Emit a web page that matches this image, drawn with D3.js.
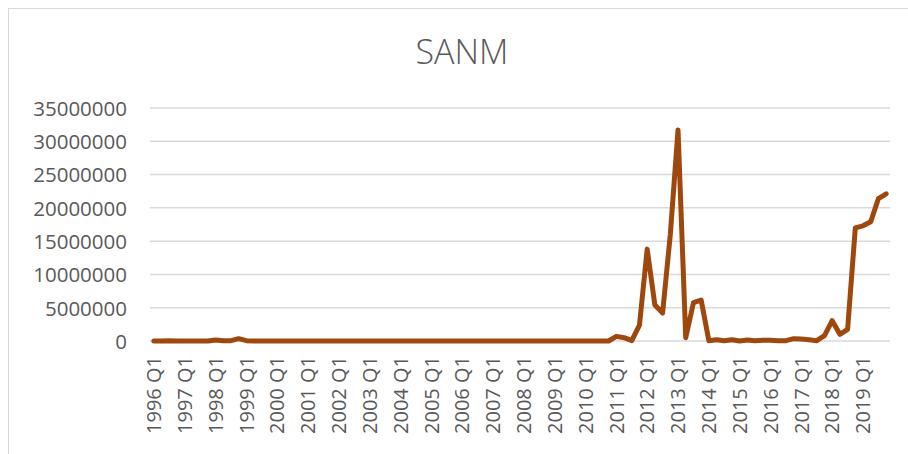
<!DOCTYPE html>
<html>
<head>
<meta charset="utf-8">
<script src="https://cdn.jsdelivr.net/npm/d3@7"></script>
<style>
  html, body { margin: 0; padding: 0; background: #fff; }
  svg { display: block; }
  text { font-family: "Open Sans", "DejaVu Sans", sans-serif; fill: #595959; }
</style>
</head>
<body>
<svg id="chart" width="908" height="454"></svg>
<script>
const title = "SANM";
const years = d3.range(1996, 2020);
const quarters = years.flatMap(y => ["Q1", "Q2", "Q3", "Q4"].map(q => `${y} ${q}`));
const tickLabels = years.map(y => `${y} Q1`);
const yTicks = [0, 5000000, 10000000, 15000000, 20000000, 25000000, 30000000, 35000000];

// values in millions, one per quarter (1996 Q1 .. 2019 Q4)
const valuesM = [
  0, 0, 0.03, 0, 0, 0, 0, 0,          // 1996-1997
  0.15, 0.05, 0.05, 0.35, 0.05, 0, 0, 0, // 1998-1999
  0, 0, 0, 0, 0, 0, 0, 0,             // 2000-2001
  0, 0, 0, 0, 0, 0, 0, 0,             // 2002-2003
  0, 0, 0, 0, 0, 0, 0, 0,             // 2004-2005
  0, 0, 0, 0, 0, 0, 0, 0,             // 2006-2007
  0, 0, 0, 0, 0, 0, 0, 0,             // 2008-2009
  0, 0, 0, 0,                         // 2010
  0.7, 0.5, 0.05, 2.4,                // 2011
  13.8, 5.4, 4.2, 16.0,               // 2012
  31.7, 0.5, 5.75, 6.15,              // 2013
  0.05, 0.2, 0.05, 0.2,               // 2014
  0, 0.15, 0.05, 0.1,                 // 2015
  0.1, 0.05, 0.05, 0.35,              // 2016
  0.3, 0.2, 0.05, 0.8,                // 2017
  3.05, 1.0, 1.75, 17.0,              // 2018
  17.3, 17.9, 21.4, 22.1              // 2019
];
const values = valuesM.map(v => v * 1e6);

const svg = d3.select("#chart");

// chart border
svg.append("rect")
  .attr("x", 8.5).attr("y", 8.5)
  .attr("width", 1000).attr("height", 1000)
  .attr("fill", "none").attr("stroke", "#d9d9d9").attr("stroke-width", 1);

// title
svg.append("text")
  .attr("x", 462).attr("y", 64)
  .attr("text-anchor", "middle")
  .style("font-size", "34px")
  .style("font-weight", 300)
  .text(title);

const x = d3.scaleBand().domain(quarters).range([150, 890]);
const y = d3.scaleLinear().domain([0, 35000000]).range([341, 108]);

// gridlines
svg.append("g").selectAll("line").data(yTicks).join("line")
  .attr("x1", 150).attr("x2", 890)
  .attr("y1", d => y(d)).attr("y2", d => y(d))
  .attr("stroke", "#d9d9d9").attr("stroke-width", 1.5);

// y axis labels
const yAxis = d3.axisLeft(y).tickValues(yTicks).tickFormat(d3.format("d")).tickSize(0).tickPadding(0);
const yg = svg.append("g").attr("transform", "translate(127,0)").call(yAxis);
yg.select(".domain").remove();
yg.selectAll("text")
  .style("font-size", "20.5px")
  .style("font-family", "'Open Sans', sans-serif")
  .attr("fill", "#595959")
  .attr("dy", "0.36em");

// x axis labels
const xAxis = d3.axisBottom(x).tickValues(tickLabels).tickSize(0).tickPadding(0);
const xg = svg.append("g").attr("transform", "translate(0,356)").call(xAxis);
xg.select(".domain").remove();
xg.selectAll("text")
  .style("font-size", "20px")
  .style("font-family", "'Open Sans', sans-serif")
  .attr("fill", "#595959")
  .attr("text-anchor", "end")
  .attr("transform", "rotate(-90)")
  .attr("x", 0).attr("y", 0)
  .attr("dy", "0.36em");

// line
const line = d3.line()
  .x((d, i) => x(quarters[i]) + x.bandwidth() / 2)
  .y(d => y(d));

svg.append("path")
  .datum(values)
  .attr("d", line)
  .attr("fill", "none")
  .attr("stroke", "#9E480E")
  .attr("stroke-width", 5)
  .attr("stroke-linejoin", "round")
  .attr("stroke-linecap", "round");
</script>
</body>
</html>
